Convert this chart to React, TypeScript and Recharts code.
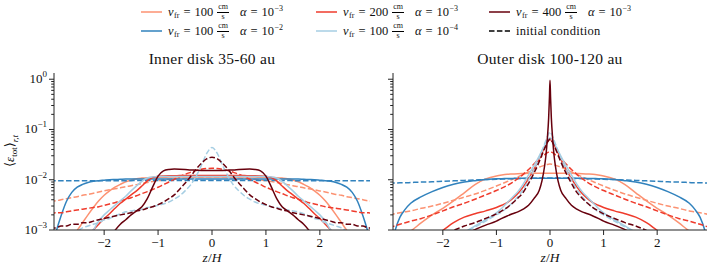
import React from "react";
import { LineChart, Line, XAxis, YAxis } from "recharts";

// z/H grid (upper half, profiles are mirrored to z < 0)
const zInner = [0, 0.1, 0.2, 0.3, 0.4, 0.5, 0.6, 0.7, 0.8, 0.9, 1.0, 1.1, 1.2, 1.3, 1.4, 1.5, 1.6, 1.7, 1.8, 1.9, 2.0, 2.1, 2.2, 2.3, 2.4, 2.5, 2.6, 2.7, 2.8, 2.9, 3.0];
const zOuter = [0, 0.01, 0.025, 0.05, 0.075, 0.1, 0.15, 0.2, 0.3, 0.4, 0.5, 0.6, 0.7, 0.8, 0.9, 1.0, 1.2, 1.4, 1.6, 1.8, 2.0, 2.2, 2.4, 2.6, 2.7, 2.8, 2.9, 3.0];

// inner disk, final profiles
const innerV100a3 = [0.0113, 0.0113, 0.0113, 0.0113, 0.0113, 0.0113, 0.0113, 0.0113, 0.0113, 0.0112, 0.0112, 0.0111, 0.011, 0.0108, 0.0105, 0.0099, 0.0091, 0.0081, 0.0071, 0.006, 0.0049, 0.0038, 0.0028, 0.002, 0.0014, 0.00098, 0.0007, 0.0005, 0.00035, 0.00025, 0.00018];
const innerV100a2 = [0.0104, 0.0104, 0.0104, 0.0104, 0.0104, 0.0104, 0.0104, 0.0104, 0.0104, 0.0104, 0.0104, 0.0104, 0.0104, 0.0104, 0.0104, 0.0103, 0.0103, 0.0102, 0.0101, 0.01, 0.0098, 0.0096, 0.0093, 0.0088, 0.0081, 0.0071, 0.0056, 0.0037, 0.0019, 0.00085, 0.0003];
const innerV200a3 = [0.0122, 0.0122, 0.0122, 0.0122, 0.0122, 0.0121, 0.0121, 0.012, 0.012, 0.0119, 0.0117, 0.0111, 0.0095, 0.0075, 0.006, 0.005, 0.0041, 0.0034, 0.0027, 0.0021, 0.0017, 0.0013, 0.001, 0.0007, 0.0005, 0.00035, 0.00025, 0.00018, 0.00013, 0.0001, 0.00008];
const innerV100a4 = [0.0116, 0.0116, 0.0116, 0.0116, 0.0116, 0.0116, 0.0116, 0.0116, 0.0116, 0.0116, 0.0116, 0.0114, 0.0108, 0.0093, 0.0075, 0.006, 0.0047, 0.0038, 0.0031, 0.0025, 0.002, 0.0015, 0.001, 0.00065, 0.00042, 0.0003, 0.0002, 0.00015, 0.0001, 0.00008, 0.00006];
const innerV400a3 = [0.0152, 0.0152, 0.0153, 0.0155, 0.0157, 0.016, 0.0162, 0.0163, 0.016, 0.015, 0.0118, 0.0072, 0.0042, 0.0029, 0.0024, 0.002, 0.0016, 0.0013, 0.00098, 0.0007, 0.0005, 0.00035, 0.00025, 0.00018, 0.00013, 0.0001, 0.00008, 0.00006, 0.00005, 0.00004, 0.00003];

// inner disk, initial conditions
const innerInitV100a3 = [0.0113, 0.0113, 0.0112, 0.0111, 0.011, 0.0108, 0.0106, 0.0104, 0.0102, 0.0099, 0.0096, 0.0092, 0.0088, 0.0084, 0.008, 0.0076, 0.0073, 0.0069, 0.0066, 0.0063, 0.006, 0.0057, 0.0054, 0.0051, 0.0049, 0.0046, 0.0044, 0.0042, 0.004, 0.0038, 0.0037];
const innerInitV100a2 = [0.0097, 0.0097, 0.0097, 0.0097, 0.0097, 0.0097, 0.0097, 0.0097, 0.0097, 0.0097, 0.0097, 0.0097, 0.0097, 0.0097, 0.0097, 0.0096, 0.0096, 0.0096, 0.0096, 0.0096, 0.0096, 0.0096, 0.0096, 0.0096, 0.0096, 0.0095, 0.0095, 0.0095, 0.0095, 0.0095, 0.0095];
const innerInitV200a3 = [0.0169, 0.0167, 0.0161, 0.0152, 0.014, 0.0128, 0.0115, 0.0102, 0.009, 0.008, 0.0071, 0.0064, 0.0058, 0.0053, 0.0048, 0.0044, 0.0041, 0.0038, 0.0035, 0.0033, 0.0031, 0.0029, 0.0028, 0.0027, 0.0026, 0.0025, 0.0024, 0.0023, 0.0022, 0.0022, 0.0021];
const innerInitV100a4 = [0.044, 0.033, 0.019, 0.0115, 0.0078, 0.006, 0.0048, 0.0041, 0.0036, 0.0033, 0.0031, 0.0029, 0.0028, 0.0026, 0.0025, 0.0024, 0.0023, 0.0021, 0.0019, 0.0017, 0.0016, 0.0014, 0.0013, 0.0012, 0.0011, 0.00095, 0.00085, 0.00075, 0.00065, 0.00058, 0.0005];
const innerInitV400a3 = [0.028, 0.026, 0.021, 0.016, 0.0115, 0.0085, 0.0065, 0.005, 0.0042, 0.0036, 0.0032, 0.0029, 0.0027, 0.0025, 0.0024, 0.0022, 0.0021, 0.002, 0.0019, 0.0018, 0.0017, 0.0016, 0.0015, 0.0014, 0.0014, 0.0013, 0.0013, 0.0012, 0.0012, 0.0011, 0.0011];

// outer disk, final profiles
const outerV100a3 = [0.0134, 0.0134, 0.0134, 0.0134, 0.0134, 0.0134, 0.0134, 0.0134, 0.0134, 0.0134, 0.0133, 0.0132, 0.013, 0.0128, 0.0124, 0.0119, 0.0104, 0.008, 0.0055, 0.0038, 0.0027, 0.002, 0.0014, 0.00095, 0.0008, 0.0006, 0.00045, 0.0003];
const outerV100a2 = [0.0107, 0.0107, 0.0107, 0.0107, 0.0107, 0.0107, 0.0107, 0.0107, 0.0107, 0.0107, 0.0107, 0.0107, 0.0106, 0.0106, 0.0105, 0.0105, 0.0101, 0.0096, 0.009, 0.0081, 0.007, 0.0058, 0.0046, 0.0034, 0.0026, 0.0018, 0.0009, 0.0003];
const outerV200a3 = [0.064, 0.063, 0.061, 0.056, 0.05, 0.044, 0.034, 0.026, 0.016, 0.0105, 0.0072, 0.0053, 0.0042, 0.0035, 0.0031, 0.0028, 0.0024, 0.0021, 0.0018, 0.0014, 0.00098, 0.0007, 0.0005, 0.00035, 0.0003, 0.00025, 0.0002, 0.00015];
const outerV100a4 = [0.068, 0.067, 0.065, 0.06, 0.054, 0.048, 0.038, 0.03, 0.019, 0.0125, 0.0082, 0.0058, 0.0045, 0.0035, 0.0027, 0.0022, 0.0016, 0.0012, 0.0009, 0.0007, 0.0005, 0.0004, 0.0003, 0.00025, 0.0002, 0.00018, 0.00015, 0.00012];
const outerV400a3 = [0.95, 0.45, 0.17, 0.065, 0.031, 0.019, 0.0095, 0.0062, 0.0042, 0.0031, 0.0026, 0.0023, 0.0021, 0.0019, 0.0017, 0.0015, 0.00125, 0.00102, 0.0008, 0.0006, 0.00045, 0.00035, 0.00028, 0.00022, 0.0002, 0.00018, 0.00016, 0.00015];

// outer disk, initial conditions
const outerInitV100a3 = [0.0205, 0.0205, 0.0204, 0.0202, 0.0199, 0.0195, 0.0187, 0.0178, 0.016, 0.0143, 0.0128, 0.0114, 0.0102, 0.0092, 0.0083, 0.0075, 0.0062, 0.0052, 0.0045, 0.0039, 0.0034, 0.003, 0.0027, 0.0024, 0.0023, 0.0022, 0.0021, 0.002];
const outerInitV100a2 = [0.0108, 0.0108, 0.0108, 0.0108, 0.0108, 0.0108, 0.0108, 0.0108, 0.0107, 0.0107, 0.0106, 0.0105, 0.0105, 0.0104, 0.0103, 0.0102, 0.0101, 0.0099, 0.0097, 0.0095, 0.0093, 0.0091, 0.009, 0.0088, 0.0087, 0.0087, 0.0086, 0.0085];
const outerInitV200a3 = [0.036, 0.0359, 0.0355, 0.0345, 0.033, 0.0315, 0.0295, 0.027, 0.0205, 0.016, 0.0128, 0.0105, 0.0089, 0.0077, 0.0068, 0.0061, 0.005, 0.0041, 0.0034, 0.0029, 0.0024, 0.002, 0.0017, 0.0015, 0.0014, 0.0013, 0.0012, 0.0011];
const outerInitV100a4 = [0.09, 0.088, 0.083, 0.072, 0.061, 0.052, 0.037, 0.027, 0.016, 0.0098, 0.0064, 0.0046, 0.0035, 0.0028, 0.0023, 0.002, 0.0015, 0.00115, 0.0009, 0.0007, 0.00055, 0.00045, 0.00035, 0.0003, 0.00027, 0.00024, 0.00022, 0.0002];
const outerInitV400a3 = [0.065, 0.064, 0.061, 0.055, 0.048, 0.042, 0.031, 0.023, 0.0135, 0.0085, 0.0056, 0.0043, 0.0034, 0.0028, 0.0024, 0.0021, 0.0017, 0.0014, 0.0012, 0.00098, 0.0008, 0.00065, 0.00055, 0.00045, 0.0004, 0.00035, 0.0003, 0.00028];

const xTicks = [-2, -1, 0, 1, 2];
const majorTicks = [0.001, 0.01, 0.1, 1];
const minorTicks = [0.002, 0.003, 0.004, 0.005, 0.006, 0.007, 0.008, 0.009, 0.02, 0.03, 0.04, 0.05, 0.06, 0.07, 0.08, 0.09, 0.2, 0.3, 0.4, 0.5, 0.6, 0.7, 0.8, 0.9];

const SIMS = [
  { key: "v100a3", color: "#fc9272", speed: "100", alpha: "−3" },
  { key: "v100a2", color: "#3182bd", speed: "100", alpha: "−2" },
  { key: "v200a3", color: "#ef3b2c", speed: "200", alpha: "−3" },
  { key: "v100a4", color: "#a6cee3", speed: "100", alpha: "−4" },
  { key: "v400a3", color: "#67000d", speed: "400", alpha: "−3" },
];

const FONT = "Liberation Serif, Times New Roman, DejaVu Serif, Noto Serif, serif";
const INK = "#222";
const X_DOMAIN: [number, number] = [-2.93, 2.93];
const Y_DOMAIN: [number, number] = [0.001, 1.33];

function mirrorAxis(z: number[]) {
  return [...z.slice(1).reverse().map((v) => -v), ...z];
}
function mirrorValues(v: number[]) {
  return [...v.slice(1).reverse(), ...v];
}

function buildRows(z: number[], finals: number[][], inits: number[][]) {
  const zs = mirrorAxis(z);
  const f = finals.map(mirrorValues);
  const i = inits.map(mirrorValues);
  return zs.map((zz, idx) => {
    const row: Record<string, number> = { z: zz };
    SIMS.forEach((s, k) => {
      row[s.key + "_f"] = f[k][idx];
      row[s.key + "_i"] = i[k][idx];
    });
    return row;
  });
}

const innerRows = buildRows(
  zInner,
  [innerV100a3, innerV100a2, innerV200a3, innerV100a4, innerV400a3],
  [innerInitV100a3, innerInitV100a2, innerInitV200a3, innerInitV100a4, innerInitV400a3],
);
const outerRows = buildRows(
  zOuter,
  [outerV100a3, outerV100a2, outerV200a3, outerV100a4, outerV400a3],
  [outerInitV100a3, outerInitV100a2, outerInitV200a3, outerInitV100a4, outerInitV400a3],
);

function fmtX(v: number) {
  return v < 0 ? "\u2212" + Math.abs(v) : String(v);
}

function makeLogTick(showLabel: boolean) {
  return function LogTick(props: any) {
    const { x, y, payload } = props;
    const v = payload.value;
    const major = majorTicks.includes(v);
    const len = major ? 5 : 2.8;
    const exp = Math.round(Math.log10(v));
    return (
      <g>
        <line x1={x} x2={x - len} y1={y} y2={y} stroke={INK} strokeWidth={1} />
        {major && showLabel && (
          <text x={x - 7} y={y + 4} textAnchor="end" fontSize={13} fontFamily={FONT} fill="#111">
            10
            <tspan dy={-6} fontSize={9}>
              {exp < 0 ? "\u2212" + Math.abs(exp) : String(exp)}
            </tspan>
          </text>
        )}
      </g>
    );
  };
}

function Panel({ rows, showLabels, width, yAxisWidth, right }: any) {
  return (
    <LineChart width={width} height={270} data={rows} margin={{ top: 73, right, bottom: 0, left: 0 }}>
      <XAxis
        dataKey="z"
        type="number"
        domain={X_DOMAIN}
        allowDataOverflow
        ticks={xTicks}
        tickFormatter={fmtX}
        height={40}
        stroke={INK}
        tickSize={5}
        tickMargin={3}
        tick={{ fontSize: 13, fontFamily: FONT, fill: "#111" }}
      />
      <XAxis xAxisId="top" orientation="top" type="number" domain={X_DOMAIN} allowDataOverflow height={0} tick={false} tickLine={false} stroke={INK} />
      <YAxis
        scale="log"
        type="number"
        domain={Y_DOMAIN}
        allowDataOverflow
        ticks={[...majorTicks, ...minorTicks]}
        interval={0}
        width={yAxisWidth}
        stroke={INK}
        tickLine={false}
        tickSize={0}
        tickMargin={0}
        tick={makeLogTick(showLabels)}
      />
      <YAxis yAxisId="right" orientation="right" scale="log" type="number" domain={Y_DOMAIN} allowDataOverflow width={0} tick={false} tickLine={false} stroke={INK} />
      {SIMS.map((s) => [
        <Line key={s.key + "_f"} dataKey={s.key + "_f"} type="monotone" stroke={s.color} strokeWidth={1.5} dot={false} activeDot={false} isAnimationActive={false} />,
        <Line key={s.key + "_i"} dataKey={s.key + "_i"} type="monotone" stroke={s.color} strokeWidth={1.5} strokeDasharray="5.5 2.4" dot={false} activeDot={false} isAnimationActive={false} />,
      ])}
    </LineChart>
  );
}

function LegendItem({ x, y, color, dashed, children }: any) {
  return (
    <div style={{ position: "absolute", left: x, top: y - 10, height: 20, display: "flex", alignItems: "center", whiteSpace: "nowrap" }}>
      <svg width={21} height={4} style={{ marginRight: 6 }}>
        <line x1={0} x2={21} y1={2} y2={2} stroke={color} strokeWidth={1.5} strokeDasharray={dashed ? "5.5 2.4" : undefined} />
      </svg>
      {children}
    </div>
  );
}

function SimLabel({ speed, alpha }: any) {
  return (
    <span style={{ display: "inline-flex", alignItems: "center", fontSize: 12.5 }}>
      <i>v</i>
      <span style={{ fontSize: 8, position: "relative", top: 3, marginLeft: 0.5 }}>fr</span>
      <span style={{ margin: "0 4px" }}>=</span>
      {speed}
      <span style={{ display: "inline-flex", flexDirection: "column", alignItems: "center", fontSize: 8, lineHeight: "8.5px", margin: "0 3px 0 4px" }}>
        <span style={{ borderBottom: "0.6px solid #000", padding: "0 1px" }}>cm</span>
        <span>s</span>
      </span>
      <i style={{ marginLeft: 8 }}>α</i>
      <span style={{ margin: "0 4px" }}>=</span>
      10
      <span style={{ fontSize: 8, position: "relative", top: -4, marginLeft: 0.5 }}>{alpha}</span>
    </span>
  );
}

export default function App() {
  const col = [141, 316, 489];
  const rowY = [12, 31];
  const order = [
    [0, 2, 4],
    [1, 3, -1],
  ];
  return (
    <div style={{ position: "absolute", left: 0, top: 0, width: 710, height: 270, background: "#fff", fontFamily: FONT, color: "#111" }}>
      <div style={{ position: "absolute", left: 0, top: 0 }}>
        <Panel rows={innerRows} showLabels width={380} yAxisWidth={54} right={10} />
      </div>
      <div style={{ position: "absolute", left: 343, top: 0 }}>
        <Panel rows={outerRows} showLabels={false} width={367} yAxisWidth={50} right={3} />
      </div>

      <div style={{ position: "absolute", left: 54, width: 316, top: 50, textAlign: "center", fontSize: 15.5, letterSpacing: 0.3 }}>Inner disk 35-60 au</div>
      <div style={{ position: "absolute", left: 393, width: 314, top: 50, textAlign: "center", fontSize: 15.5, letterSpacing: 0.3 }}>Outer disk 100-120 au</div>
      <div style={{ position: "absolute", left: 54, width: 316, top: 250, textAlign: "center", fontSize: 13.5 }}>
        <i>z</i>/<i>H</i>
      </div>
      <div style={{ position: "absolute", left: 393, width: 314, top: 250, textAlign: "center", fontSize: 13.5 }}>
        <i>z</i>/<i>H</i>
      </div>
      <div
        style={{ position: "absolute", left: 10, top: 151, transform: "translate(-50%, -50%) rotate(-90deg)", whiteSpace: "nowrap", fontSize: 13 }}
      >
        ⟨<i>ε</i>
        <span style={{ fontSize: 9, position: "relative", top: 3 }}>tot</span>⟩
        <span style={{ fontSize: 9, position: "relative", top: 4 }}>
          <i>r,t</i>
        </span>
      </div>

      {order.map((r, ri) =>
        r.map((si, ci) =>
          si >= 0 ? (
            <LegendItem key={ri + "-" + ci} x={col[ci]} y={rowY[ri]} color={SIMS[si].color}>
              <SimLabel speed={SIMS[si].speed} alpha={SIMS[si].alpha} />
            </LegendItem>
          ) : (
            <LegendItem key="init" x={col[ci]} y={rowY[ri]} color="#000" dashed>
              <span style={{ fontSize: 12.5, letterSpacing: 0.3 }}>initial condition</span>
            </LegendItem>
          ),
        ),
      )}
    </div>
  );
}
